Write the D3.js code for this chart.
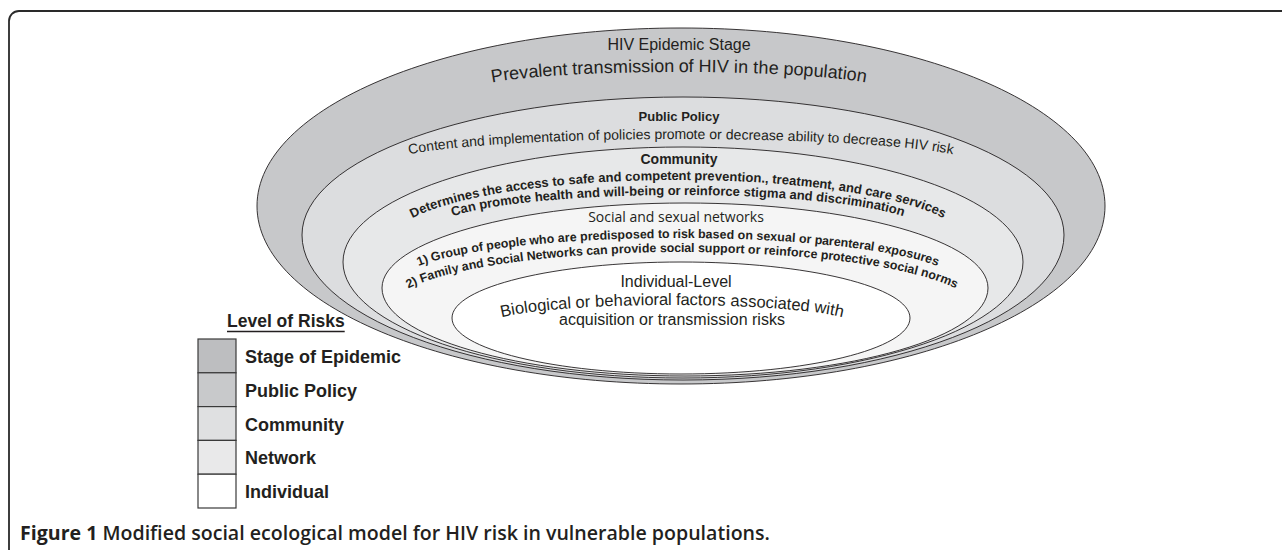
<!DOCTYPE html>
<html lang="en">
<head>
<meta charset="UTF-8">
<title>Modified social ecological model for HIV risk</title>
<script src="https://d3js.org/d3.v7.min.js"></script>
<style>
  html, body { margin: 0; padding: 0; background: #fff; }
  svg { display: block; }
</style>
</head>
<body>
<script>
// levels of risk, outermost ring first
const levels = ["Stage of Epidemic", "Public Policy", "Community", "Network", "Individual"];
const legendFills = ["#bdbec0", "#c8c9cb", "#dfe0e1", "#e9e9ea", "#ffffff"];
const ringFills = ["#c7c8ca", "#dcdddf", "#e7e8e9", "#f5f5f5", "#ffffff"];
const ringTitles = ["HIV Epidemic Stage", "Public Policy", "Community", "Social and sexual networks", "Individual-Level"];
const ringText = [
  ["Prevalent transmission of HIV in the population"],
  ["Content and implementation of policies promote or decrease ability to decrease HIV risk"],
  ["Determines the access to safe and competent prevention., treatment, and care services",
   "Can promote health and will-being or reinforce stigma and discrimination"],
  ["1) Group of people who are predisposed to risk based on sexual or parenteral exposures",
   "2) Family and Social Networks can provide social support or reinforce protective social norms"],
  ["Biological or behavioral factors associated with",
   "acquisition or transmission risks"]
];
const legendTitle = "Level of Risks";
const captionLead = "Figure 1";
const captionText = " Modified social ecological model for HIV risk in vulnerable populations.";

const W = 1282, H = 550;
const ARIAL = '"Liberation Sans", Arial, Helvetica, sans-serif';
const INK = "#231f20";

// ring outlines: centre, half width, upper and lower half heights
const ringShape = [
  {cx: 681, cy: 206, rx: 424, up: 178, down: 178},
  {cx: 683, cy: 235, rx: 381, up: 138, down: 145},
  {cx: 683, cy: 262, rx: 340, up: 115, down: 116},
  {cx: 685, cy: 288, rx: 303, up: 85, down: 88},
  {cx: 681, cy: 318, rx: 229, up: 56, down: 56}
];
const titleStyle = [
  {x: 679, y: 50, size: 16, weight: 400, font: ARIAL},
  {x: 679, y: 121, size: 13, weight: 700, font: ARIAL},
  {x: 679, y: 164, size: 14, weight: 700, font: ARIAL},
  {x: 676, y: 222, size: 14, weight: 400, font: '"Open Sans", "Noto Sans", sans-serif'},
  {x: 676, y: 287, size: 16, weight: 400, font: ARIAL}
];
// guide arcs for the curved lines (centre x, apex baseline, arc radii)
const lineStyle = [
  [{x: 679, apex: 72, rx: 205, ry: 18, size: 18, weight: 400}],
  [{x: 681, apex: 139, rx: 295, ry: 25, size: 14, weight: 400}],
  [{x: 678, apex: 180, rx: 285, ry: 60, size: 13, weight: 700},
   {x: 678, apex: 195, rx: 245, ry: 35, size: 13, weight: 700}],
  [{x: 678, apex: 238, rx: 280, ry: 45, size: 12.4, weight: 700},
   {x: 682, apex: 252, rx: 292, ry: 56, size: 12.4, weight: 700}],
  [{x: 672, apex: 305, rx: 185, ry: 20, size: 16.5, weight: 400},
   {x: 672, flat: true, apex: 325, size: 16, weight: 400}]
];

const svg = d3.select("body").append("svg")
  .attr("width", W)
  .attr("height", H)
  .attr("viewBox", [0, 0, W, H]);

// figure frame (only top and left edges show)
svg.append("path")
  .attr("d", "M9,560 L9,21 A10,10 0 0 1 19,11 L1290,11")
  .attr("fill", "none")
  .attr("stroke", "#2a2a2a")
  .attr("stroke-width", 1.8);

function ringPath(s) {
  const p = d3.path();
  // d3.path has no elliptical arc, so each quarter is a bezier
  const k = 0.5523;
  p.moveTo(s.cx - s.rx, s.cy);
  p.bezierCurveTo(s.cx - s.rx, s.cy - k * s.up, s.cx - k * s.rx, s.cy - s.up, s.cx, s.cy - s.up);
  p.bezierCurveTo(s.cx + k * s.rx, s.cy - s.up, s.cx + s.rx, s.cy - k * s.up, s.cx + s.rx, s.cy);
  p.bezierCurveTo(s.cx + s.rx, s.cy + k * s.down, s.cx + k * s.rx, s.cy + s.down, s.cx, s.cy + s.down);
  p.bezierCurveTo(s.cx - k * s.rx, s.cy + s.down, s.cx - s.rx, s.cy + k * s.down, s.cx - s.rx, s.cy);
  p.closePath();
  return p.toString();
}

const ringColor = d3.scaleOrdinal().domain(levels).range(ringFills);

svg.append("g").selectAll("path")
  .data(levels)
  .join("path")
  .attr("d", (d, i) => ringPath(ringShape[i]))
  .attr("fill", d => ringColor(d))
  .attr("stroke", INK)
  .attr("stroke-width", 0.9);

// ring titles
svg.append("g").selectAll("text")
  .data(ringTitles)
  .join("text")
  .attr("x", (d, i) => titleStyle[i].x)
  .attr("y", (d, i) => titleStyle[i].y)
  .attr("text-anchor", "middle")
  .attr("font-family", (d, i) => titleStyle[i].font)
  .attr("font-size", (d, i) => titleStyle[i].size)
  .attr("font-weight", (d, i) => titleStyle[i].weight)
  .attr("fill", INK)
  .text(d => d);

// descriptive lines, bent along the top of each ring
const defs = svg.append("defs");
const lines = [];
ringText.forEach((arr, i) => arr.forEach((t, j) => lines.push({t, st: lineStyle[i][j], id: `arc-${i}-${j}`})));

lines.forEach(l => {
  const s = l.st;
  if (s.flat) {
    svg.append("text")
      .attr("x", s.x).attr("y", s.apex)
      .attr("text-anchor", "middle")
      .attr("font-family", ARIAL)
      .attr("font-size", s.size)
      .attr("font-weight", s.weight)
      .attr("fill", INK)
      .text(l.t);
    return;
  }
  const cy = s.apex + s.ry;
  defs.append("path")
    .attr("id", l.id)
    .attr("d", `M${s.x - s.rx},${cy} A${s.rx},${s.ry} 0 0 1 ${s.x + s.rx},${cy}`);
  svg.append("text")
    .attr("font-family", ARIAL)
    .attr("font-size", s.size)
    .attr("font-weight", s.weight)
    .attr("fill", INK)
    .append("textPath")
    .attr("href", "#" + l.id)
    .attr("startOffset", "50%")
    .attr("text-anchor", "middle")
    .text(l.t);
});

// legend
const legendX = 198, legendW = 38;
const band = d3.scaleBand().domain(levels).range([339, 508]);
const legendColor = d3.scaleOrdinal().domain(levels).range(legendFills);

const leg = svg.append("g");
const title = leg.append("text")
  .attr("x", 227).attr("y", 327)
  .attr("font-family", ARIAL)
  .attr("font-size", 17.5)
  .attr("font-weight", 700)
  .attr("fill", INK)
  .text(legendTitle);
const tw = title.node().getComputedTextLength();
leg.append("line")
  .attr("x1", 227).attr("x2", 227 + tw)
  .attr("y1", 331.5).attr("y2", 331.5)
  .attr("stroke", INK).attr("stroke-width", 1.6);

const rows = leg.selectAll("g.row")
  .data(levels)
  .join("g")
  .attr("class", "row");
rows.append("rect")
  .attr("x", legendX)
  .attr("y", d => band(d))
  .attr("width", legendW)
  .attr("height", band.bandwidth())
  .attr("fill", d => legendColor(d))
  .attr("stroke", "#3a3a3a")
  .attr("stroke-width", 1.2);
rows.append("text")
  .attr("x", 245)
  .attr("y", d => band(d) + band.bandwidth() / 2 + 7)
  .attr("font-family", ARIAL)
  .attr("font-size", 18)
  .attr("font-weight", 700)
  .attr("fill", INK)
  .text(d => d);

// caption
const cap = svg.append("text")
  .attr("x", 20).attr("y", 540)
  .attr("font-family", '"Open Sans", "Noto Sans", sans-serif')
  .attr("font-size", 16.5)
  .attr("fill", INK);
cap.append("tspan").attr("font-weight", 700).text(captionLead);
cap.append("tspan").attr("font-weight", 600).text(captionText);
// scale the caption to the width it has in the figure
const cw = cap.node().getComputedTextLength();
cap.attr("font-size", 16.5 * 750 / cw);
</script>
</body>
</html>
